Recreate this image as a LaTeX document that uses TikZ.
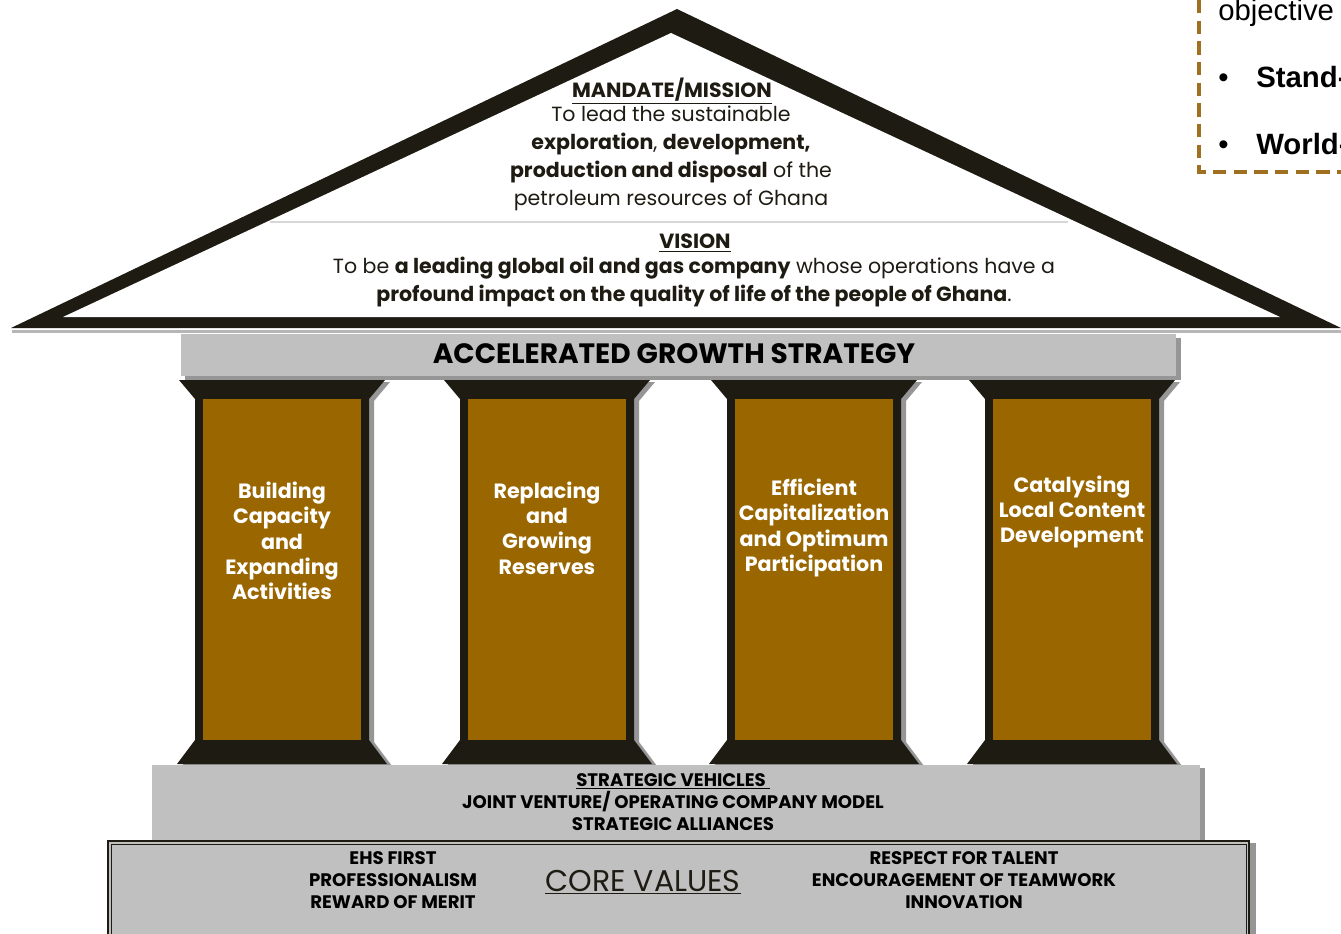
\documentclass[tikz,border=0pt]{standalone}
\usepackage{fontspec}
\setmainfont{Poppins}
\newfontfamily\arialf{Liberation Sans}
\definecolor{pbrown}{RGB}{153,102,0}
\definecolor{pblack}{RGB}{30,27,19}
\definecolor{pgray}{RGB}{192,192,192}
\definecolor{pshadow}{RGB}{150,150,150}
\definecolor{dashbrown}{RGB}{158,112,32}
\definecolor{divgray}{RGB}{215,215,215}
\begin{document}
\begin{tikzpicture}[x=0.75pt,y=-0.75pt,
  pillartext/.style={text=white,font=\bfseries\fontsize{15.5}{19}\selectfont,align=center,inner sep=0pt},
  bandtext/.style={font=\bfseries\fontsize{13.6}{16.5}\selectfont,align=center,text=black,inner sep=0pt},
  rooftext/.style={font=\fontsize{15.4}{21}\selectfont,align=center,text=pblack,inner sep=0pt},
  roofhead/.style={font=\bfseries\fontsize{15.4}{21}\selectfont,text=pblack,inner sep=0pt},
  arialtext/.style={font=\arialf\fontsize{22}{26}\selectfont,anchor=base west,inner sep=0pt,text=black}]
\useasboundingbox (0,0) rectangle (1341,934);

% ---- roof ----
\fill[pshadow!70] (12,330) -- (1341,330) -- (1341,333) -- (12,333) -- cycle;
\fill[pblack] (11,328) -- (677,9) -- (1341,328) -- cycle;
\fill[white] (63,317) -- (671,33) -- (1280,317) -- cycle;
\draw[divgray,line width=2.2pt] (270,222) -- (1068,222);

\node[roofhead] (mhead) at (672,91) {\underline{MANDATE/MISSION}};
\node[rooftext] (mbody) at (671,158) {To lead the sustainable\\
\textbf{exploration}, \textbf{development,}\\
\textbf{production and disposal} of the\\
petroleum resources of Ghana};
\node[roofhead] (vhead) at (695,243) {\underline{VISION}};
\node[rooftext] (vbody) at (694,282) {To be \textbf{a leading global oil and gas company} whose operations have a\\
\textbf{profound impact on the quality of life of the people of Ghana}.};

% ---- pillars ----
\foreach \c in {282,547,814,1072} {
  \fill[pshadow,shift={(\c+5,2)}] (-103,380) -- (103,380) -- (87,399) -- (87,740) -- (105,764) -- (-105,764) -- (-87,740) -- (-87,399) -- cycle;
  \fill[pblack,shift={(\c,0)}] (-103,380) -- (103,380) -- (87,399) -- (87,740) -- (105,764) -- (-105,764) -- (-87,740) -- (-87,399) -- cycle;
  \fill[pbrown,shift={(\c,0)}] (-79,399) rectangle (79,740);
}
\node[pillartext] (p1) at (282,541) {Building\\Capacity\\and\\Expanding\\Activities};
\node[pillartext] (p2) at (547,528) {Replacing\\and\\Growing\\Reserves};
\node[pillartext] (p3) at (814,528) {Efficient\\Capitalization\\and Optimum\\Participation};
\node[pillartext] (p4) at (1072,512) {Catalysing\\Local Content\\Development};

% ---- strategy bar ----
\fill[pshadow] (185,338) rectangle (1181,380);
\fill[pgray] (181,334) rectangle (1176,376);
\node[font=\bfseries\fontsize{21}{24}\selectfont,text=black,inner sep=0pt] (ags) at (674,354) {ACCELERATED GROWTH STRATEGY};

% ---- strategic vehicles ----
\fill[pshadow] (1200,768) rectangle (1205,840);
\fill[pgray] (152,765) rectangle (1200,840);
\node[bandtext] (sv) at (673,802) {\underline{STRATEGIC VEHICLES\ }\\JOINT VENTURE/ OPERATING COMPANY MODEL\\STRATEGIC ALLIANCES};

% ---- core values ----
\fill[pshadow] (1250,843) rectangle (1256,940);
\fill[pgray] (107,840) rectangle (1250,940);
\draw[pblack,line width=1.5pt] (108,841) rectangle (1249,945);
\draw[pblack,line width=0.5pt] (111,844) rectangle (1246,945);
\node[bandtext] (cvl) at (393,880) {EHS FIRST\\PROFESSIONALISM\\REWARD OF MERIT};
\node[font=\fontsize{22.5}{26}\selectfont,text=pblack,inner sep=0pt] (cv) at (643,882) {\underline{CORE VALUES}};
\node[bandtext] (cvr) at (964,880) {RESPECT FOR TALENT\\ENCOURAGEMENT OF TEAMWORK\\INNOVATION};

% ---- top-right dashed box ----
\coordinate (dtop) at (1199,0);
\coordinate (dcorner) at (1199,172);
\coordinate (dright) at (1345,172);
\draw[dashbrown,line width=2.4pt,dash pattern=on 10pt off 5.5pt] (dtop) -- (dcorner) -- (dright);
\node[arialtext] (obj) at (1218,21) {objective};
\node[arialtext] (b1) at (1218,88) {\textbullet};
\node[arialtext,font=\arialf\bfseries\fontsize{22}{26}\selectfont] (st) at (1256,88) {Stand-};
\node[arialtext] (b2) at (1218,155) {\textbullet};
\node[arialtext,font=\arialf\bfseries\fontsize{22}{26}\selectfont] (wo) at (1256,155) {World-};
\end{tikzpicture}
\end{document}
